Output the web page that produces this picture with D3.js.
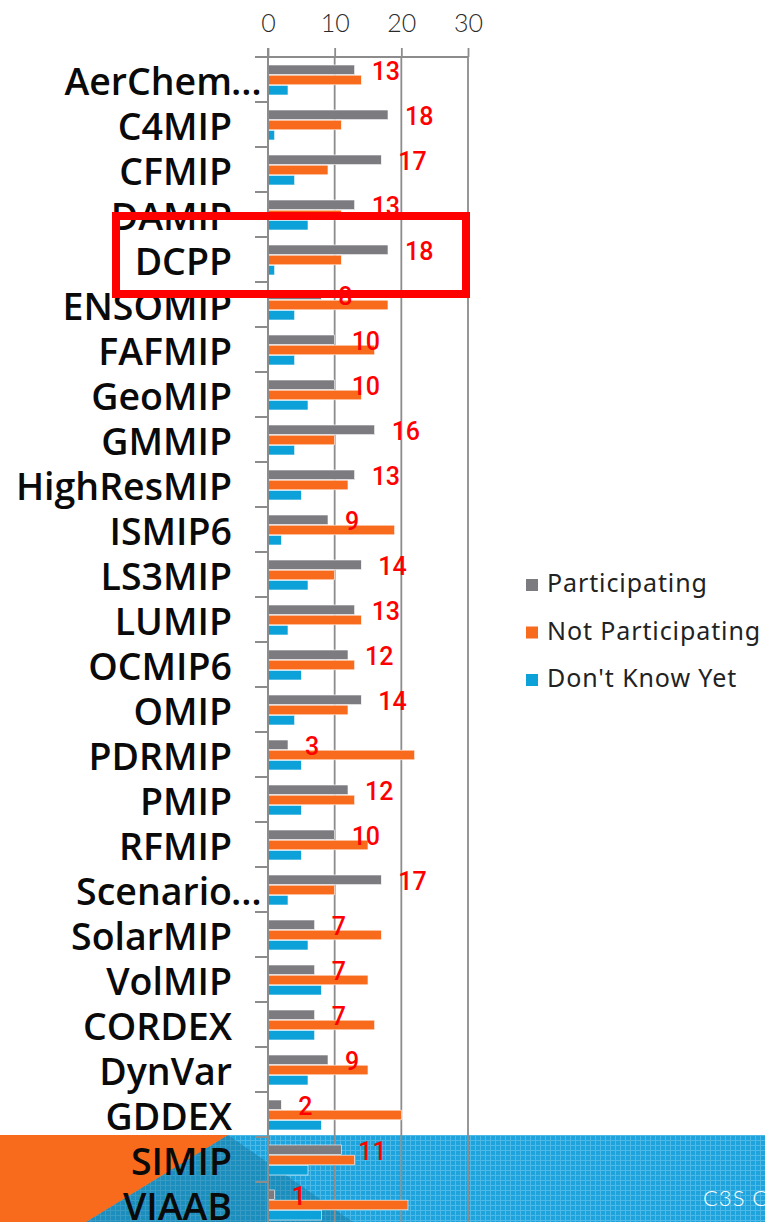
<!DOCTYPE html>
<html>
<head>
<meta charset="utf-8">
<script src="https://cdn.jsdelivr.net/npm/d3@7"></script>
<style>
  html, body { margin: 0; padding: 0; background: #fff; overflow: hidden; }
</style>
</head>
<body>
<div id="chart"></div>
<script>
// categories (top to bottom) and the three series
var categories = ["AerChem…", "C4MIP", "CFMIP", "DAMIP", "DCPP", "ENSOMIP", "FAFMIP", "GeoMIP",
  "GMMIP", "HighResMIP", "ISMIP6", "LS3MIP", "LUMIP", "OCMIP6", "OMIP", "PDRMIP", "PMIP",
  "RFMIP", "Scenario…", "SolarMIP", "VolMIP", "CORDEX", "DynVar", "GDDEX", "SIMIP", "VIAAB"];
var participating    = [13, 18, 17, 13, 18, 8, 10, 10, 16, 13, 9, 14, 13, 12, 14, 3, 12, 10, 17, 7, 7, 7, 9, 2, 11, 1];
var notParticipating = [14, 11, 9, 11, 11, 18, 16, 14, 10, 12, 19, 10, 14, 13, 12, 22, 13, 15, 10, 17, 15, 16, 15, 20, 13, 21];
var dontKnowYet      = [3, 1, 4, 6, 1, 4, 4, 6, 4, 5, 2, 6, 3, 5, 4, 5, 5, 5, 3, 6, 8, 7, 6, 8, 6, 8];
var seriesNames = ["Participating", "Not Participating", "Don't Know Yet"];
var xTicks = [0, 10, 20, 30];

var width = 765, height = 1222;
var colors = ["#7b7b80", "#f86b1d", "#0ca1d9"];

var svg = d3.select("#chart").append("svg")
    .attr("width", width)
    .attr("height", height);

// slide footer decoration
var defs = svg.append("defs");
var pat = defs.append("pattern")
    .attr("id", "dots")
    .attr("width", 5).attr("height", 5)
    .attr("patternUnits", "userSpaceOnUse");
pat.append("rect").attr("width", 5).attr("height", 5).attr("fill", "#1fa3dc");
pat.append("rect").attr("width", 5).attr("height", 1).attr("fill", "#4cb9e6");
pat.append("rect").attr("width", 1).attr("height", 5).attr("fill", "#4cb9e6");

svg.append("rect")
    .attr("x", 0).attr("y", 1135)
    .attr("width", width).attr("height", height - 1135)
    .attr("fill", "url(#dots)");
svg.append("path")
    .attr("d", "M228,1135 L353,1222 L86,1222 Z")
    .attr("fill", "#1a6f90")
    .attr("opacity", 0.4);
svg.append("path")
    .attr("d", "M0,1135 L228,1135 L86,1222 L0,1222 Z")
    .attr("fill", "#f86b1d");
svg.append("text")
    .attr("x", 703).attr("y", 1206)
    .attr("fill", "#ffffff")
    .style("font-family", "Lato, 'Noto Sans', sans-serif")
    .style("font-weight", 300)
    .style("font-size", "22px")
    .style("letter-spacing", "1px")
    .text("C3S C");

// scales
var plotTop = 57, step = 45;
var x = d3.scaleLinear().domain([0, 30]).range([268, 468]);
var y = d3.scaleBand().domain(categories).range([plotTop, plotTop + step * categories.length]);
var ySeries = d3.scaleBand().domain(seriesNames).range([8, 38]).paddingInner(0.05);

// gridlines
svg.append("g")
    .selectAll("line")
    .data(xTicks.slice(1))
    .enter()
    .append("line")
    .attr("x1", function(d) { return x(d); })
    .attr("x2", function(d) { return x(d); })
    .attr("y1", plotTop)
    .attr("y2", height)
    .attr("stroke", "#8c8c8c")
    .attr("stroke-width", 1.8);

// bars
var rows = categories.map(function(c, i) {
  return { cat: c, values: [participating[i], notParticipating[i], dontKnowYet[i]] };
});
var groups = svg.append("g")
    .selectAll("g")
    .data(rows)
    .enter()
    .append("g")
    .attr("transform", function(d) { return "translate(0," + y(d.cat) + ")"; });

groups.selectAll("rect")
    .data(function(d) {
      return d.values.map(function(v, j) { return { name: seriesNames[j], value: v, j: j }; });
    })
    .enter()
    .append("rect")
    .attr("x", x(0))
    .attr("y", function(d) { return ySeries(d.name); })
    .attr("width", function(d) { return x(d.value) - x(0); })
    .attr("height", ySeries.bandwidth())
    .attr("fill", function(d) { return colors[d.j]; })
    .attr("stroke", "#ffffff")
    .attr("stroke-width", 0.6);

// x axis on top
var xAxis = svg.append("g")
    .attr("transform", "translate(0," + plotTop + ")")
    .call(d3.axisTop(x).tickValues(xTicks).tickSize(9).tickPadding(16));
xAxis.select(".domain").attr("stroke", "#8c8c8c").attr("stroke-width", 2)
    .attr("d", "M268,0H468");
xAxis.selectAll(".tick line").attr("stroke", "#8c8c8c").attr("stroke-width", 1.8);
xAxis.selectAll(".tick text")
    .attr("fill", "#2a2a2a")
    .style("font-family", "Lato, 'Noto Sans', sans-serif")
    .style("font-weight", 300)
    .style("font-size", "25px");

// y axis line and boundary ticks
svg.append("line")
    .attr("x1", x(0)).attr("x2", x(0))
    .attr("y1", plotTop - 9).attr("y2", height)
    .attr("stroke", "#8c8c8c")
    .attr("stroke-width", 2);
svg.append("g")
    .selectAll("line")
    .data(categories)
    .enter()
    .append("line")
    .attr("x1", x(0) - 13).attr("x2", x(0))
    .attr("y1", function(d) { return y(d); })
    .attr("y2", function(d) { return y(d); })
    .attr("stroke", "#8c8c8c")
    .attr("stroke-width", 2);

// category labels
var labelX = 232;
var catLabels = svg.append("g")
    .selectAll("g")
    .data(categories)
    .enter()
    .append("g")
    .attr("transform", function(d) { return "translate(0," + (y(d) + y.bandwidth() / 2 + 15) + ")"; })
    .style("font-family", "'Open Sans', sans-serif")
    .style("font-weight", 600)
    .style("font-size", "37.5px")
    .attr("fill", "#0a0a0a");
catLabels.append("text")
    .attr("x", labelX)
    .attr("text-anchor", "end")
    .text(function(d) { return d.replace("…", ""); });
catLabels.filter(function(d) { return d.indexOf("…") >= 0; })
    .append("text")
    .attr("x", labelX - 1)
    .text("…");

// data labels for Participating
svg.append("g")
    .selectAll("text")
    .data(rows)
    .enter()
    .append("text")
    .attr("x", function(d) { return x(d.values[0]) + 17; })
    .attr("y", function(d) { return y(d.cat) + 23; })
    .attr("fill", "#ff0000")
    .style("font-family", "Roboto, sans-serif")
    .style("font-weight", 500)
    .style("font-size", "25px")
    .text(function(d) { return d.values[0]; });

// legend
var legend = svg.append("g")
    .selectAll("g")
    .data(seriesNames)
    .enter()
    .append("g")
    .attr("transform", function(d, i) { return "translate(526," + (592 + i * 47.5) + ")"; });
legend.append("rect")
    .attr("x", 0).attr("y", -13)
    .attr("width", 12).attr("height", 12)
    .attr("fill", function(d, i) { return colors[i]; });
legend.append("text")
    .attr("x", 21)
    .attr("y", 0)
    .attr("fill", "#222")
    .style("font-family", "'Noto Sans', sans-serif")
    .style("font-size", "25px")
    .style("letter-spacing", "0.9px")
    .text(function(d) { return d; });

// highlight box around DCPP
svg.append("rect")
    .attr("x", 116).attr("y", 216)
    .attr("width", 350).attr("height", 78)
    .attr("fill", "none")
    .attr("stroke", "#ff0000")
    .attr("stroke-width", 8);
</script>
</body>
</html>
